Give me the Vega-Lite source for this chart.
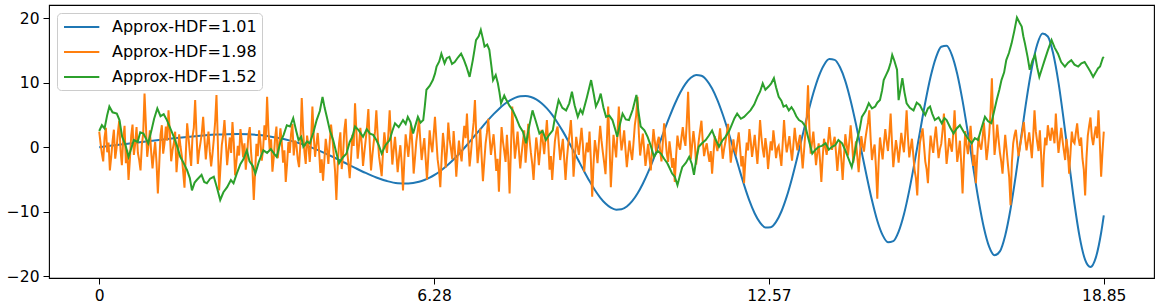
{
"$schema": "https://vega.github.io/schema/vega-lite/v6.json",
"autosize": {"type": "none"},
"width": 1105,
"height": 273,
"padding": {"left": 49, "top": 5, "right": 6, "bottom": 30},
"background": "white",
"config": {
  "view": {"stroke": "#000", "strokeWidth": 1.1},
  "axis": {"domain": false, "grid": false, "tickColor": "#000", "tickSize": 6, "tickWidth": 1, "labelColor": "#000", "labelFont": "DejaVu Sans", "labelFontSize": 15.5, "labelPadding": 4, "title": null},
  "legend": {"orient": "none", "legendX": 8, "legendY": 8, "symbolType": "M-0.875,0H3.54", "symbolSize": 256, "symbolStrokeWidth": 2, "labelFontSize": 16, "labelFont": "DejaVu Sans", "labelColor": "#000", "padding": 5, "rowPadding": 8, "labelOffset": 32, "strokeColor": "#cccccc", "fillColor": "rgba(255,255,255,0.8)", "cornerRadius": 4, "title": null}
},
"encoding": {
  "x": {"field": "x", "type": "quantitative", "scale": {"domain": [-0.9425, 19.792], "nice": false, "zero": false}, "axis": {"values": [0, 6.2832, 12.5664, 18.8496], "labelExpr": "datum.value == 0 ? '0' : format(datum.value, '.2f')"}},
  "y": {"field": "y", "type": "quantitative", "scale": {"domain": [-20.3, 22.05], "nice": false, "zero": false}, "axis": {"values": [-20, -10, 0, 10, 20]}}
},
"layer": [
  {
    "data": {"values": [
{"x":0,"y":0},{"x":0.2,"y":0.2},{"x":0.4,"y":0.4},{"x":0.6,"y":0.6},{"x":0.8,"y":0.798},{"x":1.0,"y":0.995},{"x":1.2,"y":1.188},{"x":1.4,"y":1.373},{"x":1.6,"y":1.548},{"x":1.8,"y":1.706},{"x":2.0,"y":1.842},{"x":2.2,"y":1.947},{"x":2.4,"y":2.013},{"x":2.6,"y":2.028},{"x":2.8,"y":1.983},{"x":3.0,"y":1.865},{"x":3.2,"y":1.664},{"x":3.4,"y":1.371},{"x":3.6,"y":0.976},{"x":3.8,"y":0.48},{"x":4.0,"y":-0.117},{"x":4.2,"y":-0.807},{"x":4.4,"y":-1.571},{"x":4.6,"y":-2.385},{"x":4.8,"y":-3.212},{"x":5.0,"y":-4.006},{"x":5.2,"y":-4.713},{"x":5.4,"y":-5.265},{"x":5.6,"y":-5.6},{"x":5.8,"y":-5.657},{"x":6.0,"y":-5.381},
{"x":6.1,"y":-5.104},{"x":6.2,"y":-4.733},{"x":6.3,"y":-4.263},{"x":6.4,"y":-3.699},{"x":6.5,"y":-3.044},{"x":6.6,"y":-2.303},{"x":6.7,"y":-1.486},{"x":6.8,"y":-0.6},{"x":6.9,"y":0.335},{"x":7.0,"y":1.306},{"x":7.1,"y":2.291},{"x":7.2,"y":3.269},{"x":7.3,"y":4.222},{"x":7.4,"y":5.117},{"x":7.5,"y":5.933},{"x":7.6,"y":6.643},{"x":7.7,"y":7.222},{"x":7.8,"y":7.646},{"x":7.9,"y":7.893},{"x":8.0,"y":7.945},
{"x":8.1,"y":7.79},{"x":8.2,"y":7.416},{"x":8.3,"y":6.823},{"x":8.4,"y":6.014},{"x":8.5,"y":5.0},{"x":8.6,"y":3.796},{"x":8.7,"y":2.446},{"x":8.8,"y":0.966},{"x":8.9,"y":-0.595},{"x":9.0,"y":-2.193},{"x":9.1,"y":-3.765},{"x":9.2,"y":-5.27},{"x":9.3,"y":-6.65},{"x":9.4,"y":-7.817},{"x":9.5,"y":-8.75},{"x":9.6,"y":-9.392},{"x":9.7,"y":-9.699},{"x":9.8,"y":-9.643},{"x":9.9,"y":-9.208},{"x":10.0,"y":-8.391},
{"x":10.1,"y":-7.207},{"x":10.2,"y":-5.687},{"x":10.3,"y":-3.885},{"x":10.4,"y":-1.857},{"x":10.5,"y":0.309},{"x":10.6,"y":2.526},{"x":10.7,"y":4.684},{"x":10.8,"y":6.693},{"x":10.9,"y":8.439},{"x":11.0,"y":9.825},{"x":11.1,"y":10.767},{"x":11.2,"y":11.197},{"x":11.3,"y":11.069},{"x":11.4,"y":10.364},{"x":11.5,"y":9.095},{"x":11.6,"y":7.303},{"x":11.7,"y":5.061},{"x":11.8,"y":2.499},{"x":11.9,"y":-0.283},{"x":12.0,"y":-3.12},
{"x":12.1,"y":-5.847},{"x":12.2,"y":-8.296},{"x":12.3,"y":-10.293},{"x":12.4,"y":-11.723},{"x":12.5,"y":-12.457},{"x":12.6,"y":-12.422},{"x":12.7,"y":-11.591},{"x":12.8,"y":-9.985},{"x":12.9,"y":-7.681},{"x":13.0,"y":-4.81},{"x":13.1,"y":-1.539},{"x":13.2,"y":1.91},{"x":13.3,"y":5.303},{"x":13.4,"y":8.395},{"x":13.5,"y":10.951},{"x":13.6,"y":12.758},{"x":13.7,"y":13.656},{"x":13.8,"y":13.54},{"x":13.9,"y":12.383},{"x":14.0,"y":10.241},
{"x":14.1,"y":7.195},{"x":14.2,"y":3.547},{"x":14.3,"y":-0.466},{"x":14.4,"y":-4.47},{"x":14.5,"y":-8.242},{"x":14.6,"y":-11.41},{"x":14.7,"y":-13.646},{"x":14.8,"y":-14.744},{"x":14.9,"y":-14.574},{"x":15.0,"y":-13.1},{"x":15.1,"y":-10.413},{"x":15.2,"y":-6.709},{"x":15.3,"y":-2.332},{"x":15.4,"y":2.361},{"x":15.5,"y":6.921},{"x":15.6,"y":10.908},{"x":15.7,"y":13.898},{"x":15.8,"y":15.576},{"x":15.9,"y":15.725},{"x":16.0,"y":14.285},
{"x":16.1,"y":11.352},{"x":16.2,"y":7.173},{"x":16.3,"y":2.189},{"x":16.4,"y":-3.136},{"x":16.5,"y":-8.224},{"x":16.6,"y":-12.508},{"x":16.7,"y":-15.483},{"x":16.8,"y":-16.778},{"x":16.9,"y":-16.173},{"x":17.0,"y":-13.705},{"x":17.1,"y":-9.603},{"x":17.2,"y":-4.315},{"x":17.3,"y":1.58},{"x":17.4,"y":7.379},{"x":17.5,"y":12.306},{"x":17.6,"y":15.924},{"x":17.7,"y":17.633},{"x":17.8,"y":17.165},{"x":17.9,"y":14.515},{"x":18.0,"y":9.995},
{"x":18.1,"y":4.053},{"x":18.2,"y":-2.493},{"x":18.3,"y":-8.819},{"x":18.4,"y":-14.069},{"x":18.5,"y":-17.488},{"x":18.6,"y":-18.587},{"x":18.7,"y":-17.139},{"x":18.8,"y":-13.278},{"x":18.85,"y":-10.577}
    ]},
    "mark": {"type": "line", "strokeWidth": 2, "interpolate": "monotone"},
    "encoding": {"color": {"datum": "Approx-HDF=1.01", "type": "nominal", "scale": {"domain": ["Approx-HDF=1.01", "Approx-HDF=1.98", "Approx-HDF=1.52"], "range": ["#1f77b4", "#ff7f0e", "#2ca02c"]}, "legend": {"title": null}}}
  },
  {
    "data": {"values": [
{"x":0,"y":2.4},{"x":0.025,"y":0.6},{"x":0.05,"y":-1.0},{"x":0.075,"y":-2.2},{"x":0.1,"y":1.5},{"x":0.125,"y":3.0},{"x":0.15,"y":-0.8},{"x":0.175,"y":0.7},{"x":0.2,"y":-3.6},{"x":0.225,"y":-1.5},{"x":0.25,"y":0.9},{"x":0.275,"y":2.7},{"x":0.3,"y":-1.8},{"x":0.325,"y":-0.2},{"x":0.35,"y":2.2},{"x":0.375,"y":4.1},{"x":0.4,"y":-0.5},{"x":0.425,"y":-2.8},{"x":0.45,"y":1.2},{"x":0.475,"y":3.3},{"x":0.5,"y":-2.5},{"x":0.525,"y":-0.4},{"x":0.55,"y":-5.1},{"x":0.575,"y":-2.0},{"x":0.6,"y":1.8},{"x":0.625,"y":3.5},{"x":0.65,"y":-1.2},{"x":0.675,"y":0.5},{"x":0.7,"y":3.1},{"x":0.725,"y":-0.9},{"x":0.75,"y":-2.0},{"x":0.775,"y":-3.6},{"x":0.8,"y":0.4},{"x":0.825,"y":2.1},{"x":0.85,"y":8.3},{"x":0.875,"y":3.6},{"x":0.9,"y":-1.5},{"x":0.925,"y":0.3},{"x":0.95,"y":2.6},{"x":0.975,"y":-0.8},
{"x":1.0,"y":-3.3},{"x":1.025,"y":-1.0},{"x":1.05,"y":0.8},{"x":1.075,"y":-2.4},{"x":1.1,"y":-7.2},{"x":1.125,"y":-2.9},{"x":1.15,"y":1.9},{"x":1.175,"y":3.4},{"x":1.2,"y":-1.0},{"x":1.225,"y":0.6},{"x":1.25,"y":3.2},{"x":1.275,"y":1.0},{"x":1.3,"y":5.7},{"x":1.325,"y":2.3},{"x":1.35,"y":-2.2},{"x":1.375,"y":-0.5},{"x":1.4,"y":0.6},{"x":1.425,"y":2.4},{"x":1.45,"y":-3.9},{"x":1.475,"y":-1.2},{"x":1.5,"y":2.0},{"x":1.525,"y":0.1},{"x":1.55,"y":-1.4},{"x":1.575,"y":-3.8},{"x":1.6,"y":-6.3},{"x":1.625,"y":-0.9},{"x":1.65,"y":3.7},{"x":1.675,"y":1.5},{"x":1.7,"y":-0.8},{"x":1.725,"y":-2.9},{"x":1.75,"y":1.6},{"x":1.775,"y":3.0},{"x":1.8,"y":7.3},{"x":1.825,"y":2.1},{"x":1.85,"y":-2.6},{"x":1.875,"y":-0.6},{"x":1.9,"y":0.7},{"x":1.925,"y":2.2},{"x":1.95,"y":4.7},{"x":1.975,"y":1.3},
{"x":2.0,"y":-1.9},{"x":2.025,"y":0.4},{"x":2.05,"y":2.4},{"x":2.075,"y":-0.7},{"x":2.1,"y":-3.0},{"x":2.125,"y":-1.1},{"x":2.15,"y":1.2},{"x":2.175,"y":3.9},{"x":2.2,"y":8.1},{"x":2.225,"y":1.0},{"x":2.25,"y":-6.7},{"x":2.275,"y":-3.1},{"x":2.3,"y":0.3},{"x":2.325,"y":1.8},{"x":2.35,"y":4.2},{"x":2.375,"y":0.9},{"x":2.4,"y":-2.8},{"x":2.425,"y":-0.6},{"x":2.45,"y":1.5},{"x":2.475,"y":-0.9},{"x":2.5,"y":3.9},{"x":2.525,"y":0.7},{"x":2.55,"y":-4.4},{"x":2.575,"y":-2.2},{"x":2.6,"y":0.2},{"x":2.625,"y":-1.3},{"x":2.65,"y":2.8},{"x":2.675,"y":0.9},{"x":2.7,"y":-1.6},{"x":2.725,"y":0.6},{"x":2.75,"y":-3.5},{"x":2.775,"y":-1.0},{"x":2.8,"y":1.9},{"x":2.825,"y":3.1},{"x":2.85,"y":-0.9},{"x":2.875,"y":-3.4},{"x":2.9,"y":-8.2},{"x":2.925,"y":-3.9},{"x":2.95,"y":0.5},{"x":2.975,"y":-1.4},
{"x":3.0,"y":2.6},{"x":3.025,"y":0.9},{"x":3.05,"y":-2.1},{"x":3.075,"y":-0.3},{"x":3.1,"y":3.4},{"x":3.125,"y":1.1},{"x":3.15,"y":7.8},{"x":3.175,"y":2.6},{"x":3.2,"y":-0.6},{"x":3.225,"y":1.2},{"x":3.25,"y":-3.8},{"x":3.275,"y":-1.6},{"x":3.3,"y":1.4},{"x":3.325,"y":3.2},{"x":3.35,"y":-1.7},{"x":3.375,"y":0.2},{"x":3.4,"y":2.9},{"x":3.425,"y":0.8},{"x":3.45,"y":-2.4},{"x":3.475,"y":-0.5},{"x":3.5,"y":-5.4},{"x":3.525,"y":-2.6},{"x":3.55,"y":0.8},{"x":3.575,"y":-0.9},{"x":3.6,"y":2.1},{"x":3.625,"y":3.6},{"x":3.65,"y":-1.3},{"x":3.675,"y":1.0},{"x":3.7,"y":0.4},{"x":3.725,"y":-1.9},{"x":3.75,"y":-3.1},{"x":3.775,"y":0.6},{"x":3.8,"y":7.6},{"x":3.825,"y":2.8},{"x":3.85,"y":-0.7},{"x":3.875,"y":-2.6},{"x":3.9,"y":1.8},{"x":3.925,"y":0.2},{"x":3.95,"y":-2.3},{"x":3.975,"y":0.9},
{"x":4.0,"y":6.3},{"x":4.025,"y":1.7},{"x":4.05,"y":-1.5},{"x":4.075,"y":0.4},{"x":4.1,"y":2.2},{"x":4.125,"y":-0.6},{"x":4.15,"y":-4.0},{"x":4.175,"y":-1.9},{"x":4.2,"y":-5.2},{"x":4.225,"y":-2.0},{"x":4.25,"y":1.3},{"x":4.275,"y":-0.4},{"x":4.3,"y":-2.6},{"x":4.325,"y":0.8},{"x":4.35,"y":3.5},{"x":4.375,"y":1.4},{"x":4.4,"y":-1.1},{"x":4.425,"y":-3.7},{"x":4.45,"y":-8.2},{"x":4.475,"y":-2.8},{"x":4.5,"y":0.6},{"x":4.525,"y":2.3},{"x":4.55,"y":-3.4},{"x":4.575,"y":-1.2},{"x":4.6,"y":2.7},{"x":4.625,"y":4.4},{"x":4.65,"y":-0.4},{"x":4.675,"y":-2.5},{"x":4.7,"y":-4.8},{"x":4.725,"y":-1.6},{"x":4.75,"y":1.9},{"x":4.775,"y":0.2},{"x":4.8,"y":6.8},{"x":4.825,"y":2.5},{"x":4.85,"y":-1.8},{"x":4.875,"y":0.3},{"x":4.9,"y":3.0},{"x":4.925,"y":0.6},{"x":4.95,"y":-2.9},{"x":4.975,"y":-0.8},
{"x":5.0,"y":1.1},{"x":5.025,"y":3.2},{"x":5.05,"y":5.9},{"x":5.075,"y":0.7},{"x":5.1,"y":-3.6},{"x":5.125,"y":-1.3},{"x":5.15,"y":0.7},{"x":5.175,"y":2.4},{"x":5.2,"y":5.7},{"x":5.225,"y":1.8},{"x":5.25,"y":-1.4},{"x":5.275,"y":-2.9},{"x":5.3,"y":-4.5},{"x":5.325,"y":-0.8},{"x":5.35,"y":2.3},{"x":5.375,"y":0.4},{"x":5.4,"y":-0.9},{"x":5.425,"y":2.0},{"x":5.45,"y":5.7},{"x":5.475,"y":1.2},{"x":5.5,"y":-2.7},{"x":5.525,"y":-0.5},{"x":5.55,"y":1.6},{"x":5.575,"y":-1.0},{"x":5.6,"y":-3.9},{"x":5.625,"y":-1.6},{"x":5.65,"y":0.3},{"x":5.675,"y":-2.4},{"x":5.7,"y":-6.7},{"x":5.725,"y":-2.1},{"x":5.75,"y":2.0},{"x":5.775,"y":0.3},{"x":5.8,"y":-1.5},{"x":5.825,"y":0.8},{"x":5.85,"y":3.6},{"x":5.875,"y":0.4},{"x":5.9,"y":-4.1},{"x":5.925,"y":-1.7},{"x":5.95,"y":0.9},{"x":5.975,"y":2.5},
{"x":6.0,"y":4.3},{"x":6.025,"y":1.0},{"x":6.05,"y":-2.0},{"x":6.075,"y":-0.2},{"x":6.1,"y":1.4},{"x":6.125,"y":-1.8},{"x":6.15,"y":-5.0},{"x":6.175,"y":-1.4},{"x":6.2,"y":2.6},{"x":6.225,"y":0.5},{"x":6.25,"y":-0.8},{"x":6.275,"y":1.9},{"x":6.3,"y":4.7},{"x":6.325,"y":1.3},{"x":6.35,"y":-1.9},{"x":6.375,"y":-3.5},{"x":6.4,"y":-6.2},{"x":6.425,"y":-1.7},{"x":6.45,"y":2.2},{"x":6.475,"y":0.1},{"x":6.5,"y":-3.2},{"x":6.525,"y":-0.6},{"x":6.55,"y":3.8},{"x":6.575,"y":1.2},{"x":6.6,"y":-0.3},{"x":6.625,"y":-1.9},{"x":6.65,"y":2.5},{"x":6.675,"y":-0.6},{"x":6.7,"y":-4.6},{"x":6.725,"y":-1.5},{"x":6.75,"y":1.0},{"x":6.775,"y":-0.9},{"x":6.8,"y":-2.2},{"x":6.825,"y":0.9},{"x":6.85,"y":3.3},{"x":6.875,"y":1.4},{"x":6.9,"y":5.2},{"x":6.925,"y":0.8},{"x":6.95,"y":-3.0},{"x":6.975,"y":-0.9},
{"x":7.0,"y":1.7},{"x":7.025,"y":3.8},{"x":7.05,"y":7.3},{"x":7.075,"y":1.9},{"x":7.1,"y":-2.5},{"x":7.125,"y":-0.3},{"x":7.15,"y":2.9},{"x":7.175,"y":-1.4},{"x":7.2,"y":-5.3},{"x":7.225,"y":-2.3},{"x":7.25,"y":0.6},{"x":7.275,"y":2.2},{"x":7.3,"y":4.4},{"x":7.325,"y":1.6},{"x":7.35,"y":-1.2},{"x":7.375,"y":0.4},{"x":7.4,"y":2.0},{"x":7.425,"y":-0.6},{"x":7.45,"y":-3.7},{"x":7.475,"y":-1.8},{"x":7.5,"y":-6.9},{"x":7.525,"y":-1.3},{"x":7.55,"y":3.1},{"x":7.575,"y":0.9},{"x":7.6,"y":-0.6},{"x":7.625,"y":-2.3},{"x":7.65,"y":1.9},{"x":7.675,"y":-1.5},{"x":7.7,"y":-7.2},{"x":7.725,"y":-0.4},{"x":7.75,"y":6.3},{"x":7.775,"y":2.0},{"x":7.8,"y":-1.8},{"x":7.825,"y":0.2},{"x":7.85,"y":2.4},{"x":7.875,"y":-0.5},{"x":7.9,"y":-3.3},{"x":7.925,"y":-1.1},{"x":7.95,"y":0.8},{"x":7.975,"y":2.6},
{"x":8.0,"y":-2.4},{"x":8.025,"y":0.3},{"x":8.05,"y":3.6},{"x":8.075,"y":1.2},{"x":8.1,"y":-0.9},{"x":8.125,"y":-2.6},{"x":8.15,"y":-5.1},{"x":8.175,"y":-1.5},{"x":8.2,"y":1.5},{"x":8.225,"y":-0.3},{"x":8.25,"y":-2.8},{"x":8.275,"y":-0.4},{"x":8.3,"y":2.7},{"x":8.325,"y":0.8},{"x":8.35,"y":-1.1},{"x":8.375,"y":1.5},{"x":8.4,"y":4.2},{"x":8.425,"y":0.6},{"x":8.45,"y":-3.5},{"x":8.475,"y":-1.4},{"x":8.5,"y":-5.1},{"x":8.525,"y":-2.0},{"x":8.55,"y":0.9},{"x":8.575,"y":2.4},{"x":8.6,"y":3.2},{"x":8.625,"y":0.5},{"x":8.65,"y":-2.0},{"x":8.675,"y":-0.3},{"x":8.7,"y":1.3},{"x":8.725,"y":-1.8},{"x":8.75,"y":-5.1},{"x":8.775,"y":-1.9},{"x":8.8,"y":0.4},{"x":8.825,"y":2.0},{"x":8.85,"y":4.2},{"x":8.875,"y":0.8},{"x":8.9,"y":-4.6},{"x":8.925,"y":-1.6},{"x":8.95,"y":1.6},{"x":8.975,"y":0.2},
{"x":9.0,"y":-1.2},{"x":9.025,"y":0.9},{"x":9.05,"y":3.0},{"x":9.075,"y":0.4},{"x":9.1,"y":-3.8},{"x":9.125,"y":-1.1},{"x":9.15,"y":0.7},{"x":9.175,"y":-0.8},{"x":9.2,"y":2.4},{"x":9.225,"y":-1.9},{"x":9.25,"y":-7.7},{"x":9.275,"y":-2.7},{"x":9.3,"y":1.1},{"x":9.325,"y":-0.4},{"x":9.35,"y":-2.5},{"x":9.375,"y":0.6},{"x":9.4,"y":3.3},{"x":9.425,"y":1.0},{"x":9.45,"y":-0.8},{"x":9.475,"y":-2.4},{"x":9.5,"y":-4.2},{"x":9.525,"y":0.8},{"x":9.55,"y":6.3},{"x":9.575,"y":0.4},{"x":9.6,"y":-6.2},{"x":9.625,"y":-2.1},{"x":9.65,"y":1.9},{"x":9.675,"y":0.1},{"x":9.7,"y":-1.6},{"x":9.725,"y":2.2},{"x":9.75,"y":6.3},{"x":9.775,"y":2.0},{"x":9.8,"y":-0.5},{"x":9.825,"y":0.9},{"x":9.85,"y":2.6},{"x":9.875,"y":-0.4},{"x":9.9,"y":-3.1},{"x":9.925,"y":-1.0},{"x":9.95,"y":1.0},{"x":9.975,"y":-0.7},
{"x":10.0,"y":-2.0},{"x":10.025,"y":0.6},{"x":10.05,"y":3.4},{"x":10.075,"y":4.9},{"x":10.1,"y":7.8},{"x":10.125,"y":2.2},{"x":10.15,"y":-1.3},{"x":10.175,"y":0.4},{"x":10.2,"y":2.1},{"x":10.225,"y":-0.3},{"x":10.25,"y":-2.9},{"x":10.275,"y":-1.2},{"x":10.3,"y":0.5},{"x":10.325,"y":-1.7},{"x":10.35,"y":-3.6},{"x":10.375,"y":-0.2},{"x":10.4,"y":2.8},{"x":10.425,"y":0.9},{"x":10.45,"y":-0.7},{"x":10.475,"y":0.8},{"x":10.5,"y":1.6},{"x":10.525,"y":-0.5},{"x":10.55,"y":-2.2},{"x":10.575,"y":0.7},{"x":10.6,"y":3.7},{"x":10.625,"y":1.4},{"x":10.65,"y":-1.0},{"x":10.675,"y":-2.3},{"x":10.7,"y":0.9},{"x":10.725,"y":-0.8},{"x":10.75,"y":-3.2},{"x":10.775,"y":-1.7},{"x":10.8,"y":-5.4},{"x":10.825,"y":-1.3},{"x":10.85,"y":1.8},{"x":10.875,"y":0.3},{"x":10.9,"y":-0.4},{"x":10.925,"y":1.5},{"x":10.95,"y":3.1},{"x":10.975,"y":1.2},
{"x":11.0,"y":0.2},{"x":11.025,"y":3.9},{"x":11.05,"y":8.6},{"x":11.075,"y":2.4},{"x":11.1,"y":-1.9},{"x":11.125,"y":0.3},{"x":11.15,"y":2.5},{"x":11.175,"y":0.6},{"x":11.2,"y":-2.7},{"x":11.225,"y":-0.8},{"x":11.25,"y":1.0},{"x":11.275,"y":2.6},{"x":11.3,"y":4.1},{"x":11.325,"y":0.9},{"x":11.35,"y":-1.4},{"x":11.375,"y":-0.2},{"x":11.4,"y":0.6},{"x":11.425,"y":-1.0},{"x":11.45,"y":-2.3},{"x":11.475,"y":-0.6},{"x":11.5,"y":-4.1},{"x":11.525,"y":-1.2},{"x":11.55,"y":1.7},{"x":11.575,"y":0.4},{"x":11.6,"y":-0.6},{"x":11.625,"y":1.1},{"x":11.65,"y":2.9},{"x":11.675,"y":0.5},{"x":11.7,"y":-1.8},{"x":11.725,"y":-0.3},{"x":11.75,"y":0.8},{"x":11.775,"y":2.1},{"x":11.8,"y":3.6},{"x":11.825,"y":0.7},{"x":11.85,"y":-2.4},{"x":11.875,"y":-0.6},{"x":11.9,"y":1.2},{"x":11.925,"y":-0.4},{"x":11.95,"y":-0.9},{"x":11.975,"y":0.8},
{"x":12.0,"y":2.3},{"x":12.025,"y":-0.2},{"x":12.05,"y":-3.0},{"x":12.075,"y":-1.4},{"x":12.1,"y":-5.6},{"x":12.125,"y":-1.9},{"x":12.15,"y":0.7},{"x":12.175,"y":-0.5},{"x":12.2,"y":2.8},{"x":12.225,"y":0.9},{"x":12.25,"y":-1.5},{"x":12.275,"y":0.1},{"x":12.3,"y":1.9},{"x":12.325,"y":-0.4},{"x":12.35,"y":-2.6},{"x":12.375,"y":0.5},{"x":12.4,"y":4.2},{"x":12.425,"y":1.6},{"x":12.45,"y":-0.3},{"x":12.475,"y":-1.6},{"x":12.5,"y":1.4},{"x":12.525,"y":-0.2},{"x":12.55,"y":-3.4},{"x":12.575,"y":-1.1},{"x":12.6,"y":0.9},{"x":12.625,"y":-0.5},{"x":12.65,"y":2.6},{"x":12.675,"y":0.7},{"x":12.7,"y":-1.7},{"x":12.725,"y":-0.2},{"x":12.75,"y":0.2},{"x":12.775,"y":-1.3},{"x":12.8,"y":-2.9},{"x":12.825,"y":0.6},{"x":12.85,"y":4.2},{"x":12.875,"y":1.1},{"x":12.9,"y":-0.8},{"x":12.925,"y":0.4},{"x":12.95,"y":1.7},{"x":12.975,"y":-0.3},
{"x":13.0,"y":-2.1},{"x":13.025,"y":0.3},{"x":13.05,"y":3.0},{"x":13.075,"y":1.0},{"x":13.1,"y":-0.5},{"x":13.125,"y":0.8},{"x":13.15,"y":1.9},{"x":13.175,"y":-0.7},{"x":13.2,"y":-3.3},{"x":13.225,"y":-0.6},{"x":13.25,"y":2.2},{"x":13.275,"y":4.6},{"x":13.3,"y":9.6},{"x":13.325,"y":3.1},{"x":13.35,"y":-1.0},{"x":13.375,"y":0.7},{"x":13.4,"y":2.4},{"x":13.425,"y":-0.2},{"x":13.45,"y":-2.8},{"x":13.475,"y":-0.9},{"x":13.5,"y":0.6},{"x":13.525,"y":-2.1},{"x":13.55,"y":-5.4},{"x":13.575,"y":-1.6},{"x":13.6,"y":1.3},{"x":13.625,"y":0.0},{"x":13.65,"y":-1.2},{"x":13.675,"y":0.8},{"x":13.7,"y":3.1},{"x":13.725,"y":0.9},{"x":13.75,"y":-0.4},{"x":13.775,"y":0.7},{"x":13.8,"y":1.6},{"x":13.825,"y":-0.8},{"x":13.85,"y":-3.7},{"x":13.875,"y":-1.2},{"x":13.9,"y":0.8},{"x":13.925,"y":-2.0},{"x":13.95,"y":-5.1},{"x":13.975,"y":-1.4},
{"x":14.0,"y":2.0},{"x":14.025,"y":0.4},{"x":14.05,"y":-1.3},{"x":14.075,"y":0.9},{"x":14.1,"y":3.4},{"x":14.125,"y":0.8},{"x":14.15,"y":-2.4},{"x":14.175,"y":-0.6},{"x":14.2,"y":0.9},{"x":14.225,"y":-1.5},{"x":14.25,"y":-3.9},{"x":14.275,"y":-1.0},{"x":14.3,"y":1.7},{"x":14.325,"y":0.3},{"x":14.35,"y":-0.7},{"x":14.375,"y":1.2},{"x":14.4,"y":2.6},{"x":14.425,"y":3.8},{"x":14.45,"y":5.7},{"x":14.475,"y":1.3},{"x":14.5,"y":-2.0},{"x":14.525,"y":-0.5},{"x":14.55,"y":0.4},{"x":14.575,"y":-3.2},{"x":14.6,"y":-8.0},{"x":14.625,"y":-2.4},{"x":14.65,"y":1.5},{"x":14.675,"y":-0.2},{"x":14.7,"y":-1.9},{"x":14.725,"y":0.6},{"x":14.75,"y":2.8},{"x":14.775,"y":0.9},{"x":14.8,"y":-0.6},{"x":14.825,"y":1.9},{"x":14.85,"y":5.2},{"x":14.875,"y":0.8},{"x":14.9,"y":-3.1},{"x":14.925,"y":-1.0},{"x":14.95,"y":1.1},{"x":14.975,"y":-0.4},
{"x":15.0,"y":-2.4},{"x":15.025,"y":-0.2},{"x":15.05,"y":2.2},{"x":15.075,"y":0.6},{"x":15.1,"y":-0.8},{"x":15.125,"y":2.1},{"x":15.15,"y":5.7},{"x":15.175,"y":1.5},{"x":15.2,"y":-1.6},{"x":15.225,"y":-0.1},{"x":15.25,"y":1.3},{"x":15.275,"y":-1.2},{"x":15.3,"y":-3.6},{"x":15.325,"y":-4.8},{"x":15.35,"y":-7.5},{"x":15.375,"y":-2.2},{"x":15.4,"y":0.7},{"x":15.425,"y":1.8},{"x":15.45,"y":2.9},{"x":15.475,"y":0.4},{"x":15.5,"y":-2.2},{"x":15.525,"y":-3.4},{"x":15.55,"y":-5.6},{"x":15.575,"y":-1.4},{"x":15.6,"y":1.8},{"x":15.625,"y":0.3},{"x":15.65,"y":-0.9},{"x":15.675,"y":1.4},{"x":15.7,"y":3.2},{"x":15.725,"y":0.6},{"x":15.75,"y":-1.7},{"x":15.775,"y":-0.3},{"x":15.8,"y":0.5},{"x":15.825,"y":2.6},{"x":15.85,"y":5.2},{"x":15.875,"y":1.0},{"x":15.9,"y":-2.6},{"x":15.925,"y":-0.7},{"x":15.95,"y":1.4},{"x":15.975,"y":0.2},
{"x":16.0,"y":-0.7},{"x":16.025,"y":2.1},{"x":16.05,"y":5.7},{"x":16.075,"y":1.6},{"x":16.1,"y":-2.3},{"x":16.125,"y":-0.8},{"x":16.15,"y":1.0},{"x":16.175,"y":-2.6},{"x":16.2,"y":-7.2},{"x":16.225,"y":-1.8},{"x":16.25,"y":2.5},{"x":16.275,"y":0.4},{"x":16.3,"y":-1.1},{"x":16.325,"y":0.9},{"x":16.35,"y":3.3},{"x":16.375,"y":0.5},{"x":16.4,"y":-2.9},{"x":16.425,"y":-1.2},{"x":16.45,"y":-5.6},{"x":16.475,"y":-1.5},{"x":16.5,"y":1.6},{"x":16.525,"y":0.2},{"x":16.55,"y":-0.4},{"x":16.575,"y":1.4},{"x":16.6,"y":3.8},{"x":16.625,"y":1.0},{"x":16.65,"y":-2.0},{"x":16.675,"y":-0.2},{"x":16.7,"y":2.1},{"x":16.725,"y":5.4},{"x":16.75,"y":10.7},{"x":16.775,"y":3.6},{"x":16.8,"y":-1.2},{"x":16.825,"y":0.8},{"x":16.85,"y":3.5},{"x":16.875,"y":1.2},{"x":16.9,"y":-0.8},{"x":16.925,"y":-2.2},{"x":16.95,"y":-4.1},{"x":16.975,"y":-0.9},
{"x":17.0,"y":1.9},{"x":17.025,"y":-0.3},{"x":17.05,"y":-2.6},{"x":17.075,"y":-4.7},{"x":17.1,"y":-9.0},{"x":17.125,"y":-2.4},{"x":17.15,"y":0.6},{"x":17.175,"y":1.9},{"x":17.2,"y":2.7},{"x":17.225,"y":0.5},{"x":17.25,"y":-1.4},{"x":17.275,"y":-0.1},{"x":17.3,"y":1.2},{"x":17.325,"y":2.6},{"x":17.35,"y":3.9},{"x":17.375,"y":1.3},{"x":17.4,"y":-0.5},{"x":17.425,"y":0.9},{"x":17.45,"y":2.3},{"x":17.475,"y":0.4},{"x":17.5,"y":-1.7},{"x":17.525,"y":1.6},{"x":17.55,"y":5.7},{"x":17.575,"y":2.4},{"x":17.6,"y":0.8},{"x":17.625,"y":-0.6},{"x":17.65,"y":2.6},{"x":17.675,"y":-1.4},{"x":17.7,"y":-6.2},{"x":17.725,"y":-1.3},{"x":17.75,"y":1.5},{"x":17.775,"y":0.3},{"x":17.8,"y":3.4},{"x":17.825,"y":1.9},{"x":17.85,"y":1.0},{"x":17.875,"y":3.0},{"x":17.9,"y":2.2},{"x":17.925,"y":0.6},{"x":17.95,"y":5.2},{"x":17.975,"y":1.7},
{"x":18.0,"y":-0.9},{"x":18.025,"y":1.0},{"x":18.05,"y":3.0},{"x":18.075,"y":1.1},{"x":18.1,"y":-0.5},{"x":18.125,"y":-2.0},{"x":18.15,"y":1.3},{"x":18.175,"y":-0.6},{"x":18.2,"y":-4.1},{"x":18.225,"y":-0.9},{"x":18.25,"y":2.4},{"x":18.275,"y":0.9},{"x":18.3,"y":0.6},{"x":18.325,"y":2.2},{"x":18.35,"y":3.7},{"x":18.375,"y":1.4},{"x":18.4,"y":0.2},{"x":18.425,"y":1.5},{"x":18.45,"y":-1.8},{"x":18.475,"y":-3.5},{"x":18.5,"y":-7.5},{"x":18.525,"y":-1.7},{"x":18.55,"y":1.8},{"x":18.575,"y":3.3},{"x":18.6,"y":4.6},{"x":18.625,"y":1.6},{"x":18.65,"y":0.3},{"x":18.675,"y":1.9},{"x":18.7,"y":3.2},{"x":18.725,"y":1.4},{"x":18.75,"y":5.7},{"x":18.775,"y":0.8},{"x":18.8,"y":-4.6},{"x":18.825,"y":-0.8},{"x":18.85,"y":2.4}
    ]},
    "mark": {"type": "line", "strokeWidth": 2},
    "encoding": {"color": {"datum": "Approx-HDF=1.98", "type": "nominal"}}
  },
  {
    "data": {"values": [
{"x":0,"y":2.5},{"x":0.05,"y":3.4},{"x":0.1,"y":2.9},{"x":0.15,"y":5.0},{"x":0.19,"y":6.3},{"x":0.25,"y":5.4},{"x":0.33,"y":5.2},{"x":0.38,"y":4.2},{"x":0.43,"y":1.6},{"x":0.49,"y":0.4},{"x":0.55,"y":-1.5},{"x":0.6,"y":-0.2},{"x":0.65,"y":1.1},{"x":0.72,"y":0.8},{"x":0.77,"y":2.3},{"x":0.83,"y":2.1},{"x":0.92,"y":0.6},{"x":0.98,"y":2.6},{"x":1.03,"y":4.4},{"x":1.09,"y":6.0},{"x":1.15,"y":4.8},{"x":1.21,"y":5.1},{"x":1.27,"y":4.2},{"x":1.33,"y":3.0},{"x":1.4,"y":1.6},{"x":1.46,"y":0.2},{"x":1.52,"y":-1.5},{"x":1.58,"y":-2.4},{"x":1.65,"y":-3.6},{"x":1.7,"y":-4.8},{"x":1.74,"y":-6.7},{"x":1.79,"y":-5.5},{"x":1.83,"y":-5.1},{"x":1.92,"y":-4.3},{"x":1.97,"y":-5.4},{"x":2.02,"y":-5.6},{"x":2.08,"y":-4.9},{"x":2.15,"y":-4.6},{"x":2.21,"y":-6.3},{"x":2.27,"y":-8.2},{"x":2.33,"y":-7.0},{"x":2.4,"y":-6.2},{"x":2.47,"y":-5.1},{"x":2.52,"y":-5.6},{"x":2.58,"y":-4.1},{"x":2.65,"y":-2.6},{"x":2.71,"y":-1.8},{"x":2.77,"y":-0.5},{"x":2.82,"y":-2.2},{"x":2.88,"y":-2.9},{"x":2.93,"y":-4.1},{"x":2.99,"y":-2.4},{"x":3.04,"y":-1.3},{"x":3.08,"y":-0.5},{"x":3.15,"y":-0.9},{"x":3.22,"y":-0.3},{"x":3.28,"y":-1.0},{"x":3.33,"y":-1.5},{"x":3.4,"y":0.8},{"x":3.46,"y":1.9},{"x":3.52,"y":3.4},{"x":3.58,"y":3.2},{"x":3.64,"y":4.5},{"x":3.7,"y":2.4},{"x":3.74,"y":1.1},{"x":3.79,"y":1.6},{"x":3.83,"y":0.05},{"x":3.9,"y":0.9},{"x":3.95,"y":0.6},
{"x":4.02,"y":2.3},{"x":4.08,"y":4.2},{"x":4.14,"y":5.6},{"x":4.19,"y":7.8},{"x":4.23,"y":6.1},{"x":4.27,"y":4.7},{"x":4.33,"y":2.5},{"x":4.39,"y":1.1},{"x":4.45,"y":-0.9},{"x":4.5,"y":-2.5},{"x":4.57,"y":-1.6},{"x":4.64,"y":-1.0},{"x":4.7,"y":0.8},{"x":4.75,"y":1.6},{"x":4.8,"y":3.2},{"x":4.87,"y":2.6},{"x":4.95,"y":1.6},{"x":5.02,"y":2.8},{"x":5.08,"y":2.1},{"x":5.14,"y":1.9},{"x":5.2,"y":1.1},{"x":5.25,"y":0.2},{"x":5.3,"y":-1.0},{"x":5.37,"y":0.3},{"x":5.45,"y":1.1},{"x":5.5,"y":2.5},{"x":5.55,"y":3.7},{"x":5.62,"y":3.1},{"x":5.7,"y":4.2},{"x":5.75,"y":3.6},{"x":5.79,"y":4.7},{"x":5.84,"y":3.9},{"x":5.89,"y":2.1},{"x":5.93,"y":3.3},{"x":5.98,"y":4.7},{"x":6.03,"y":3.8},{"x":6.08,"y":4.2},{"x":6.11,"y":6.4},{"x":6.14,"y":8.9},{"x":6.2,"y":9.5},{"x":6.26,"y":10.4},{"x":6.3,"y":11.4},{"x":6.33,"y":12.5},{"x":6.38,"y":13.3},{"x":6.42,"y":14.5},{"x":6.48,"y":13.0},{"x":6.52,"y":13.8},{"x":6.57,"y":14.0},{"x":6.62,"y":12.9},{"x":6.67,"y":13.2},{"x":6.73,"y":13.9},{"x":6.79,"y":14.5},{"x":6.84,"y":13.6},{"x":6.89,"y":12.5},{"x":6.95,"y":10.9},{"x":7.01,"y":13.5},{"x":7.04,"y":15.0},{"x":7.07,"y":16.6},{"x":7.12,"y":17.2},{"x":7.16,"y":18.2},{"x":7.2,"y":16.8},{"x":7.23,"y":15.6},{"x":7.28,"y":15.9},{"x":7.32,"y":15.1},{"x":7.36,"y":12.5},{"x":7.39,"y":10.4},{"x":7.44,"y":11.2},{"x":7.48,"y":9.9},{"x":7.51,"y":8.5},{"x":7.54,"y":6.8},{"x":7.6,"y":8.0},{"x":7.64,"y":7.3},{"x":7.7,"y":6.4},{"x":7.76,"y":5.7},{"x":7.82,"y":4.6},{"x":7.89,"y":3.2},{"x":7.95,"y":2.4},
{"x":8.01,"y":0.6},{"x":8.06,"y":2.9},{"x":8.13,"y":5.7},{"x":8.19,"y":4.1},{"x":8.26,"y":2.1},{"x":8.32,"y":2.5},{"x":8.38,"y":1.1},{"x":8.45,"y":2.0},{"x":8.51,"y":2.6},{"x":8.56,"y":5.0},{"x":8.62,"y":7.3},{"x":8.69,"y":6.1},{"x":8.76,"y":5.7},{"x":8.82,"y":6.8},{"x":8.87,"y":8.6},{"x":8.92,"y":6.5},{"x":8.98,"y":4.7},{"x":9.03,"y":5.8},{"x":9.07,"y":5.2},{"x":9.15,"y":7.7},{"x":9.23,"y":10.4},{"x":9.28,"y":8.2},{"x":9.32,"y":6.3},{"x":9.37,"y":7.2},{"x":9.41,"y":8.3},{"x":9.46,"y":6.2},{"x":9.51,"y":4.7},{"x":9.57,"y":4.9},{"x":9.63,"y":4.2},{"x":9.68,"y":2.8},{"x":9.72,"y":1.6},{"x":9.77,"y":3.5},{"x":9.82,"y":5.2},{"x":9.88,"y":4.3},{"x":9.94,"y":4.2},{"x":10.01,"y":5.8},{"x":10.08,"y":8.1},{"x":10.12,"y":5.4},{"x":10.16,"y":3.2},{"x":10.23,"y":2.6},{"x":10.29,"y":1.6},{"x":10.35,"y":0.2},{"x":10.41,"y":-1.5},{"x":10.48,"y":-0.6},{"x":10.54,"y":-1.0},{"x":10.6,"y":-1.8},{"x":10.66,"y":-2.5},{"x":10.7,"y":-3.2},{"x":10.75,"y":-4.1},{"x":10.8,"y":-4.6},{"x":10.85,"y":-5.9},{"x":10.9,"y":-4.3},{"x":10.94,"y":-3.1},{"x":11.01,"y":-2.4},{"x":11.07,"y":-1.5},{"x":11.12,"y":-2.6},{"x":11.16,"y":-4.3},{"x":11.2,"y":-2.0},{"x":11.25,"y":0.05},{"x":11.31,"y":0.6},{"x":11.38,"y":1.1},{"x":11.44,"y":1.8},{"x":11.5,"y":2.6},{"x":11.56,"y":1.3},{"x":11.63,"y":0.05},{"x":11.69,"y":1.0},{"x":11.75,"y":1.6},{"x":11.82,"y":2.5},{"x":11.88,"y":3.7},{"x":11.92,"y":4.5},{"x":11.97,"y":5.2},
{"x":12.04,"y":4.4},{"x":12.1,"y":4.7},{"x":12.16,"y":5.2},{"x":12.22,"y":5.7},{"x":12.29,"y":6.6},{"x":12.35,"y":7.8},{"x":12.4,"y":8.6},{"x":12.45,"y":9.9},{"x":12.5,"y":8.9},{"x":12.56,"y":9.4},{"x":12.61,"y":9.9},{"x":12.66,"y":10.7},{"x":12.7,"y":9.3},{"x":12.75,"y":7.8},{"x":12.8,"y":7.2},{"x":12.84,"y":6.3},{"x":12.89,"y":6.5},{"x":12.94,"y":5.7},{"x":12.99,"y":6.2},{"x":13.03,"y":5.7},{"x":13.08,"y":4.8},{"x":13.13,"y":4.2},{"x":13.19,"y":3.9},{"x":13.25,"y":3.2},{"x":13.32,"y":0.9},{"x":13.38,"y":-1.0},{"x":13.44,"y":-0.4},{"x":13.5,"y":0.05},{"x":13.56,"y":0.2},{"x":13.63,"y":0.6},{"x":13.69,"y":-0.4},{"x":13.75,"y":0.05},{"x":13.81,"y":0.3},{"x":13.87,"y":1.1},{"x":13.94,"y":0.6},{"x":14.0,"y":-0.5},{"x":14.06,"y":-1.8},{"x":14.12,"y":-3.1},{"x":14.17,"y":-1.3},{"x":14.22,"y":1.1},{"x":14.27,"y":2.8},{"x":14.31,"y":4.7},{"x":14.38,"y":5.6},{"x":14.44,"y":6.8},{"x":14.5,"y":6.0},{"x":14.56,"y":6.3},{"x":14.6,"y":6.9},{"x":14.65,"y":7.3},{"x":14.69,"y":8.8},{"x":14.72,"y":10.4},{"x":14.77,"y":11.3},{"x":14.81,"y":12.0},{"x":14.85,"y":13.1},{"x":14.88,"y":14.3},{"x":14.92,"y":13.4},{"x":14.97,"y":12.0},{"x":15.0,"y":7.3},{"x":15.04,"y":9.2},{"x":15.07,"y":10.7},{"x":15.11,"y":8.5},{"x":15.15,"y":6.8},{"x":15.21,"y":6.1},{"x":15.28,"y":5.7},{"x":15.34,"y":6.9},{"x":15.4,"y":6.5},{"x":15.45,"y":5.7},{"x":15.5,"y":5.0},{"x":15.55,"y":6.0},{"x":15.59,"y":6.3},{"x":15.63,"y":5.2},{"x":15.68,"y":4.2},{"x":15.75,"y":4.6},{"x":15.81,"y":3.7},{"x":15.86,"y":4.5},{"x":15.9,"y":4.2},{"x":15.97,"y":3.0},
{"x":16.03,"y":2.1},{"x":16.09,"y":2.9},{"x":16.15,"y":3.4},{"x":16.22,"y":2.4},{"x":16.28,"y":1.6},{"x":16.33,"y":1.0},{"x":16.37,"y":0.6},{"x":16.43,"y":1.4},{"x":16.49,"y":1.1},{"x":16.55,"y":2.8},{"x":16.62,"y":4.7},{"x":16.68,"y":4.0},{"x":16.74,"y":3.7},{"x":16.79,"y":5.5},{"x":16.84,"y":7.3},{"x":16.89,"y":8.9},{"x":16.93,"y":10.4},{"x":16.98,"y":11.6},{"x":17.02,"y":13.5},{"x":17.07,"y":14.6},{"x":17.12,"y":16.1},{"x":17.17,"y":18.0},{"x":17.22,"y":20.1},{"x":17.27,"y":19.3},{"x":17.31,"y":18.7},{"x":17.34,"y":17.2},{"x":17.37,"y":16.1},{"x":17.42,"y":14.0},{"x":17.46,"y":12.0},{"x":17.51,"y":13.4},{"x":17.56,"y":14.3},{"x":17.6,"y":12.4},{"x":17.64,"y":10.9},{"x":17.69,"y":12.2},{"x":17.74,"y":13.5},{"x":17.8,"y":15.0},{"x":17.87,"y":16.6},{"x":17.93,"y":15.4},{"x":17.99,"y":14.5},{"x":18.05,"y":13.2},{"x":18.12,"y":12.5},{"x":18.18,"y":13.1},{"x":18.24,"y":13.5},{"x":18.3,"y":12.8},{"x":18.37,"y":12.5},{"x":18.43,"y":13.0},{"x":18.49,"y":13.2},{"x":18.55,"y":12.4},{"x":18.6,"y":11.7},{"x":18.65,"y":10.9},{"x":18.7,"y":11.6},{"x":18.74,"y":12.2},{"x":18.78,"y":12.5},{"x":18.83,"y":13.8},{"x":18.85,"y":14.0}
    ]},
    "mark": {"type": "line", "strokeWidth": 2},
    "encoding": {"color": {"datum": "Approx-HDF=1.52", "type": "nominal"}}
  }
]
}
